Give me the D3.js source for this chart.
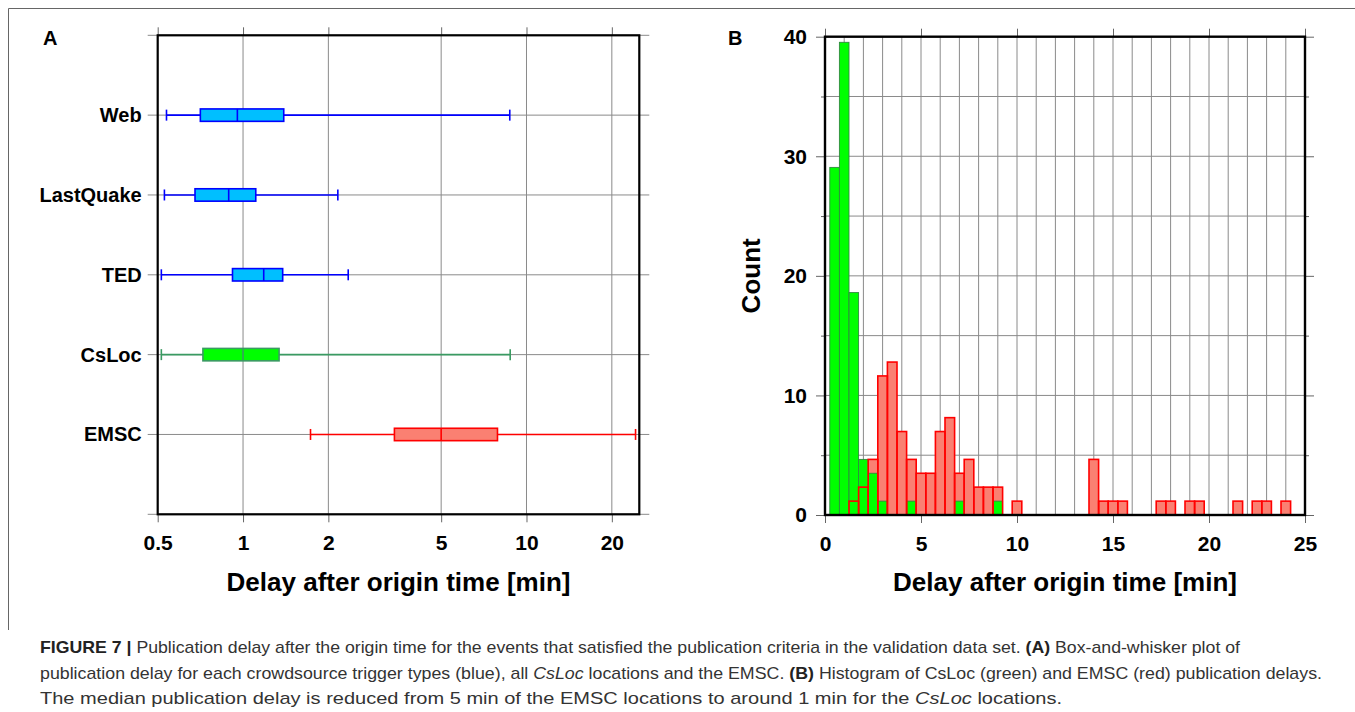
<!DOCTYPE html>
<html>
<head>
<meta charset="utf-8">
<script src="https://cdn.jsdelivr.net/npm/d3@7"></script>
<style>
  body { margin: 0; background: #fff; }
  svg { display: block; font-family: "Liberation Sans", Arial, Helvetica, sans-serif; }
</style>
</head>
<body>
<svg id="fig" width="1355" height="712"></svg>
<script>
// panel A: box-and-whisker, minutes
var boxCats = ["Web", "LastQuake", "TED", "CsLoc", "EMSC"];
var boxLow  = [0.537, 0.528, 0.515, 0.515, 1.73];
var boxQ1   = [0.707, 0.677, 0.918, 0.722, 3.42];
var boxMed  = [0.955, 0.890, 1.183, 1.0, 5.0];
var boxQ3   = [1.392, 1.109, 1.38, 1.34, 7.90];
var boxHigh = [8.73, 2.16, 2.35, 8.76, 24.25];
var boxKind = ["crowd", "crowd", "crowd", "csloc", "emsc"];
var logTicks = [0.5, 1, 2, 5, 10, 20];

// panel B: histogram, bin centres (0.5 min bins)
var csLocBins   = [0.5, 1, 1.5, 2, 2.5, 3, 4.5, 7, 9];
var csLocCounts = [29.07, 39.53, 18.60, 4.65, 3.49, 1.16, 1.16, 1.16, 1.16];
var emscBins   = [1.5, 2, 2.5, 3, 3.5, 4, 4.5, 5, 5.5, 6, 6.5, 7, 7.5, 8, 8.5, 9, 10,
                  14, 14.5, 15, 15.5, 17.5, 18, 19, 19.5, 21.5, 22.5, 23, 24];
var emscCounts = [1.16, 2.33, 4.65, 11.63, 12.79, 6.98, 4.65, 3.49, 3.49, 6.98, 8.14, 3.49, 4.65,
                  2.33, 2.33, 2.33, 1.16, 4.65, 1.16, 1.16, 1.16, 1.16, 1.16, 1.16, 1.16,
                  1.16, 1.16, 1.16, 1.16];
var binWidth = 0.5;
var histXTicks = [0, 5, 10, 15, 20, 25];
var histYTicks = [0, 10, 20, 30, 40];

var colors = {
  crowd: { fill: "#00bfff", stroke: "#0000ff" },
  csloc: { fill: "#00ff00", stroke: "#3a9a62" },
  emsc:  { fill: "#fa8072", stroke: "#ff0000" }
};
var gridColor = "#8a8a8a";
var tickColor = "#666";

var svg = d3.select("#fig");
svg.append("rect").attr("width", 1355).attr("height", 712).attr("fill", "#fff");

// figure frame
svg.append("path")
  .attr("d", "M8.5,630 V8.5 H1355")
  .attr("fill", "none").attr("stroke", "#666").attr("stroke-width", 1);

/* ---------- panel A ---------- */
var a = { left: 157.7, right: 639.3, top: 35.3, bottom: 514.3 };
var xA = d3.scaleLog().domain([0.5, 25]).range([a.left, a.right]);
var yA = d3.scaleLinear().domain([0, 6]).range([a.top, a.bottom]);

var gA = svg.append("g");

// vertical grid
gA.append("g").selectAll("line")
  .data(logTicks.slice(1))
  .enter().append("line")
  .attr("x1", function(d) { return xA(d); })
  .attr("x2", function(d) { return xA(d); })
  .attr("y1", a.top).attr("y2", a.bottom)
  .attr("stroke", gridColor).attr("stroke-width", 1);

// horizontal grid through categories, sticking out as ticks
gA.append("g").selectAll("line")
  .data(d3.range(0, 7))
  .enter().append("line")
  .attr("x1", a.left - 10).attr("x2", a.right + 10)
  .attr("y1", function(d) { return yA(d); })
  .attr("y2", function(d) { return yA(d); })
  .attr("stroke", gridColor).attr("stroke-width", 1);

// axes
function styleAxis(g, fs) {
  g.select(".domain").remove();
  g.selectAll(".tick line").attr("stroke", tickColor);
  g.selectAll(".tick text")
    .attr("fill", "#000")
    .attr("font-size", fs)
    .attr("font-weight", "bold")
    .attr("font-family", "'Liberation Sans', Arial, sans-serif");
}

gA.append("g")
  .attr("transform", "translate(0," + a.bottom + ")")
  .call(d3.axisBottom(xA).tickValues(logTicks).tickFormat(d3.format("")).tickSize(8).tickPadding(13))
  .call(styleAxis, 21);

gA.append("g")
  .attr("transform", "translate(0," + a.top + ")")
  .call(d3.axisTop(xA).tickValues(logTicks).tickFormat("").tickSize(8))
  .call(styleAxis, 21);

gA.append("g")
  .attr("transform", "translate(" + a.left + ",0)")
  .call(d3.axisLeft(yA).tickValues([1, 2, 3, 4, 5])
    .tickFormat(function(d) { return boxCats[d - 1]; })
    .tickSize(0).tickPadding(16))
  .call(styleAxis, 20);

// boxes
var boxH = 12.4, capH = 11;
var boxes = gA.append("g").selectAll("g")
  .data(boxCats)
  .enter().append("g")
  .attr("transform", function(d, i) { return "translate(0," + yA(i + 1) + ")"; });

boxes.each(function(d, i) {
  var g = d3.select(this);
  var c = colors[boxKind[i]];
  g.append("line")
    .attr("x1", xA(boxLow[i])).attr("x2", xA(boxHigh[i]))
    .attr("y1", 0).attr("y2", 0)
    .attr("stroke", c.stroke).attr("stroke-width", 1.6);
  [boxLow[i], boxHigh[i]].forEach(function(v) {
    g.append("line")
      .attr("x1", xA(v)).attr("x2", xA(v))
      .attr("y1", -capH / 2).attr("y2", capH / 2)
      .attr("stroke", c.stroke).attr("stroke-width", 1.6);
  });
  g.append("rect")
    .attr("x", xA(boxQ1[i])).attr("y", -boxH / 2)
    .attr("width", xA(boxQ3[i]) - xA(boxQ1[i])).attr("height", boxH)
    .attr("fill", c.fill).attr("stroke", c.stroke).attr("stroke-width", 1.6);
  g.append("line")
    .attr("x1", xA(boxMed[i])).attr("x2", xA(boxMed[i]))
    .attr("y1", -boxH / 2).attr("y2", boxH / 2)
    .attr("stroke", c.stroke).attr("stroke-width", 1.6);
});

// frame
gA.append("rect")
  .attr("x", a.left).attr("y", a.top)
  .attr("width", a.right - a.left).attr("height", a.bottom - a.top)
  .attr("fill", "none").attr("stroke", "#000").attr("stroke-width", 2.2);

gA.append("text")
  .attr("x", (a.left + a.right) / 2).attr("y", 591)
  .attr("text-anchor", "middle").attr("font-size", 26).attr("font-weight", "bold")
  .text("Delay after origin time [min]");

svg.append("text")
  .attr("x", 43).attr("y", 45)
  .attr("font-size", 20).attr("font-weight", "bold").text("A");

/* ---------- panel B ---------- */
var b = { left: 825, right: 1305, top: 36.7, bottom: 515 };
var xB = d3.scaleLinear().domain([0, 25]).range([b.left, b.right]);
var yB = d3.scaleLinear().domain([0, 40]).range([b.bottom, b.top]);

var gB = svg.append("g");

gB.append("g").selectAll("line")
  .data(d3.range(1, 25))
  .enter().append("line")
  .attr("x1", function(d) { return xB(d); })
  .attr("x2", function(d) { return xB(d); })
  .attr("y1", b.top).attr("y2", b.bottom)
  .attr("stroke", gridColor).attr("stroke-width", 1);

gB.append("g").selectAll("line")
  .data(d3.range(5, 40, 5))
  .enter().append("line")
  .attr("x1", b.left).attr("x2", b.right)
  .attr("y1", function(d) { return yB(d); })
  .attr("y2", function(d) { return yB(d); })
  .attr("stroke", gridColor).attr("stroke-width", 1);

gB.append("g")
  .attr("transform", "translate(0," + b.bottom + ")")
  .call(d3.axisBottom(xB).tickValues(histXTicks).tickSize(8).tickPadding(13))
  .call(styleAxis, 21);
gB.append("g")
  .attr("transform", "translate(0," + b.top + ")")
  .call(d3.axisTop(xB).tickValues(histXTicks).tickFormat("").tickSize(8))
  .call(styleAxis, 21);
gB.append("g")
  .attr("transform", "translate(" + b.left + ",0)")
  .call(d3.axisLeft(yB).tickValues(histYTicks).tickSize(9).tickPadding(9))
  .call(styleAxis, 21);
gB.append("g")
  .attr("transform", "translate(" + b.left + ",0)")
  .call(d3.axisLeft(yB).tickValues([5, 15, 25, 35]).tickFormat("").tickSize(4))
  .call(styleAxis, 21);
gB.append("g")
  .attr("transform", "translate(" + b.right + ",0)")
  .call(d3.axisRight(yB).tickValues(histYTicks).tickFormat("").tickSize(9))
  .call(styleAxis, 21);
gB.append("g")
  .attr("transform", "translate(" + b.right + ",0)")
  .call(d3.axisRight(yB).tickValues([5, 15, 25, 35]).tickFormat("").tickSize(4))
  .call(styleAxis, 21);

function barX(c) { return xB(c - binWidth / 2); }
var barW = xB(binWidth) - xB(0);

// EMSC fill
gB.append("g").selectAll("rect")
  .data(emscBins)
  .enter().append("rect")
  .attr("x", function(d) { return barX(d); })
  .attr("y", function(d, i) { return yB(emscCounts[i]); })
  .attr("width", barW)
  .attr("height", function(d, i) { return b.bottom - yB(emscCounts[i]); })
  .attr("fill", colors.emsc.fill);

// CsLoc bars
gB.append("g").selectAll("rect")
  .data(csLocBins)
  .enter().append("rect")
  .attr("x", function(d) { return barX(d); })
  .attr("y", function(d, i) { return yB(csLocCounts[i]); })
  .attr("width", barW)
  .attr("height", function(d, i) { return b.bottom - yB(csLocCounts[i]); })
  .attr("fill", colors.csloc.fill)
  .attr("stroke", "#2f8a3e").attr("stroke-width", 0.9);

// EMSC outline on top
gB.append("g").selectAll("rect")
  .data(emscBins)
  .enter().append("rect")
  .attr("x", function(d) { return barX(d); })
  .attr("y", function(d, i) { return yB(emscCounts[i]); })
  .attr("width", barW)
  .attr("height", function(d, i) { return b.bottom - yB(emscCounts[i]); })
  .attr("fill", "none")
  .attr("stroke", colors.emsc.stroke).attr("stroke-width", 1.6);

gB.append("rect")
  .attr("x", b.left).attr("y", b.top)
  .attr("width", b.right - b.left).attr("height", b.bottom - b.top)
  .attr("fill", "none").attr("stroke", "#000").attr("stroke-width", 2.4);

gB.append("text")
  .attr("x", (b.left + b.right) / 2).attr("y", 591)
  .attr("text-anchor", "middle").attr("font-size", 26).attr("font-weight", "bold")
  .text("Delay after origin time [min]");

gB.append("text")
  .attr("transform", "translate(760," + ((b.top + b.bottom) / 2) + ") rotate(-90)")
  .attr("text-anchor", "middle").attr("font-size", 26).attr("font-weight", "bold")
  .text("Count");

svg.append("text")
  .attr("x", 728).attr("y", 45)
  .attr("font-size", 20).attr("font-weight", "bold").text("B");

/* ---------- caption ---------- */
var captionLines = [
  [["b", "FIGURE 7 |"], ["n", " Publication delay after the origin time for the events that satisfied the publication criteria in the validation data set. "], ["b", "(A)"], ["n", " Box-and-whisker plot of"]],
  [["n", "publication delay for each crowdsource trigger types (blue), all "], ["i", "CsLoc"], ["n", " locations and the EMSC. "], ["b", "(B)"], ["n", " Histogram of CsLoc (green) and EMSC (red) publication delays."]],
  [["n", "The median publication delay is reduced from 5 min of the EMSC locations to around 1 min for the "], ["i", "CsLoc"], ["n", " locations."]]
];
var captionWidths = [1200, 1282, 1022];
var cap = svg.append("g").attr("fill", "#333").attr("font-size", 17);
captionLines.forEach(function(line, li) {
  var t = cap.append("text").attr("x", 40).attr("y", 653 + li * 25.5)
    .attr("textLength", captionWidths[li]).attr("lengthAdjust", "spacingAndGlyphs");
  line.forEach(function(p) {
    var s = t.append("tspan").text(p[1]);
    if (p[0] === "b") s.attr("font-weight", "bold").attr("fill", "#222");
    if (p[0] === "i") s.attr("font-style", "italic");
  });
});
</script>
</body>
</html>
